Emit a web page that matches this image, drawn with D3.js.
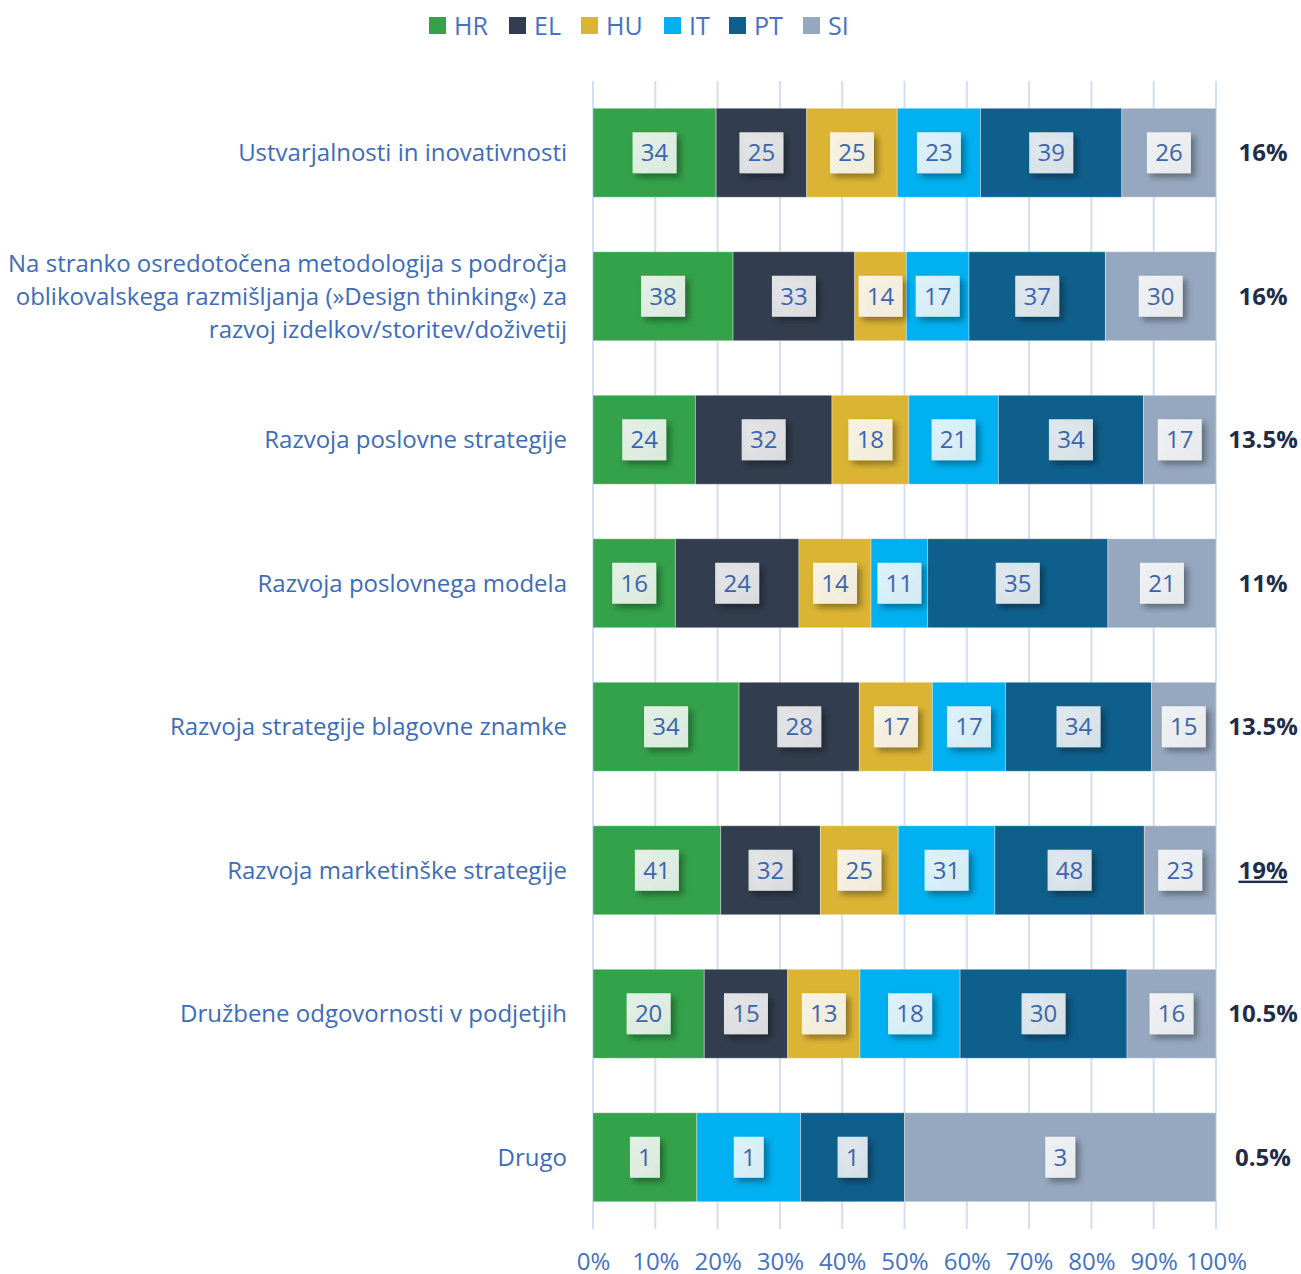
<!DOCTYPE html>
<html><head><meta charset="utf-8">
<script src="https://cdn.jsdelivr.net/npm/d3@7/dist/d3.min.js"></script>
<style>body{margin:0;background:#fff}svg{display:block}</style>
</head><body>
<script>
const categories = [
  ["Ustvarjalnosti in inovativnosti"],
  ["Na stranko osredotočena metodologija s področja","oblikovalskega razmišljanja (»Design thinking«) za","razvoj izdelkov/storitev/doživetij"],
  ["Razvoja poslovne strategije"],
  ["Razvoja poslovnega modela"],
  ["Razvoja strategije blagovne znamke"],
  ["Razvoja marketinške strategije"],
  ["Družbene odgovornosti v podjetjih"],
  ["Drugo"]
];
const seriesNames = ["HR","EL","HU","IT","PT","SI"];
const HR = [34,38,24,16,34,41,20,1];
const EL = [25,33,32,24,28,32,15,0];
const HU = [25,14,18,14,17,25,13,0];
const IT = [23,17,21,11,17,31,18,1];
const PT = [39,37,34,35,34,48,30,1];
const SI = [26,30,17,21,15,23,16,3];
const totals = ["16%","16%","13.5%","11%","13.5%","19%","10.5%","0.5%"];
const highlighted = [false,false,false,false,false,true,false,false];
const xTicks = [0,10,20,30,40,50,60,70,80,90,100];
const colors = ["#34a24a","#323e4f","#dbb434","#00b0f0","#0f5f8c","#96a8bf"];

const W=1301,H=1274;
const svg=d3.select("body").append("svg").attr("width",W).attr("height",H);
const defs=svg.append("defs");
const f=defs.append("filter").attr("id","sh").attr("x","-50%").attr("y","-50%").attr("width","200%").attr("height","200%");
f.append("feDropShadow").attr("dx",4).attr("dy",4).attr("stdDeviation",3).attr("flood-color","#000").attr("flood-opacity",0.45);
const g=defs.append("linearGradient").attr("id","bg").attr("x1","0").attr("y1","0").attr("x2","1").attr("y2","1");
g.append("stop").attr("offset","0").attr("stop-color","#fff").attr("stop-opacity",0.85);
g.append("stop").attr("offset","1").attr("stop-color","#fff").attr("stop-opacity",0.78);

const series=[HR,EL,HU,IT,PT,SI];
const rows=categories.map((c,i)=>{const o={i};seriesNames.forEach((s,j)=>o[s]=series[j][i]);return o;});
const stacked=d3.stack().keys(seriesNames).offset(d3.stackOffsetExpand)(rows);

const x=d3.scaleLinear().domain([0,1]).range([593,1216]);
const y=d3.scaleBand().domain(d3.range(categories.length)).range([81,1229]).paddingInner(0.38).paddingOuter(0.19);
const font="'Open Sans', 'Noto Sans', sans-serif";

// grid
svg.append("g").selectAll("line").data(xTicks).join("line")
  .attr("x1",d=>x(d/100)).attr("x2",d=>x(d/100)).attr("y1",81).attr("y2",1229)
  .attr("stroke","#d3def0").attr("stroke-width",2);

// axis labels
const ax=svg.append("g").attr("transform","translate(0,1229)")
  .call(d3.axisBottom(x).tickValues(xTicks.map(d=>d/100)).tickFormat(d=>Math.round(d*100)+"%").tickSize(0).tickPadding(24));
ax.select(".domain").remove();
ax.selectAll("text").attr("font-family",font).attr("font-size",24).attr("fill","#4472c4");

// bars
const layers=svg.append("g").selectAll("g").data(stacked).join("g").attr("fill",(d,i)=>colors[i]);
layers.selectAll("rect").data(d=>d.map(v=>({v,key:d.key}))).join("rect")
  .attr("x",d=>x(d.v[0])).attr("width",d=>Math.max(0,x(d.v[1])-x(d.v[0])))
  .attr("y",d=>y(d.v.data.i)).attr("height",y.bandwidth())
  .attr("stroke","rgba(255,255,255,0.35)").attr("stroke-width",1);

// value labels
const lab=svg.append("g");
stacked.forEach(layer=>{
  layer.forEach(v=>{
    const val=v.data[layer.key];
    if(!val) return;
    const cx=(x(v[0])+x(v[1]))/2, cy=y(v.data.i)+y.bandwidth()/2;
    const txt=String(val);
    const w=txt.length>1?44:30;
    lab.append("rect").attr("x",cx-w/2).attr("y",cy-20.5).attr("width",w).attr("height",41)
      .attr("fill","url(#bg)").attr("filter","url(#sh)");
    lab.append("text").attr("x",cx).attr("y",cy).attr("dy","0.36em").attr("text-anchor","middle")
      .attr("font-family",font).attr("font-size",24).attr("fill","#3b65ad").text(txt);
  });
});

// category labels
categories.forEach((lines,i)=>{
  const cy=y(i)+y.bandwidth()/2;
  const lh=33;
  const t=svg.append("text").attr("text-anchor","end").attr("font-family",font).attr("font-size",24).attr("fill","#3d6cb9");
  lines.forEach((l,k)=>{
    t.append("tspan").attr("x",567).attr("y",cy+(k-(lines.length-1)/2)*lh).attr("dy","0.35em").text(l);
  });
});

// totals
totals.forEach((tv,i)=>{
  const cy=y(i)+y.bandwidth()/2;
  svg.append("text").attr("x",1263).attr("y",cy).attr("dy","0.35em").attr("text-anchor","middle")
    .attr("font-family",font).attr("font-size",24).attr("font-weight","bold").attr("fill","#1f2d4a")
    .attr("text-decoration",highlighted[i]?"underline":null).text(tv);
});

// legend
const legX=[429,509,581,664,729,803];
const leg=svg.append("g");
seriesNames.forEach((s,i)=>{
  leg.append("rect").attr("x",legX[i]).attr("y",17).attr("width",17).attr("height",17).attr("fill",colors[i]);
  leg.append("text").attr("x",legX[i]+25).attr("y",25.5).attr("dy","0.36em").attr("font-family",font).attr("font-size",25).attr("fill","#4472c4").text(s);
});
</script>
</body></html>
